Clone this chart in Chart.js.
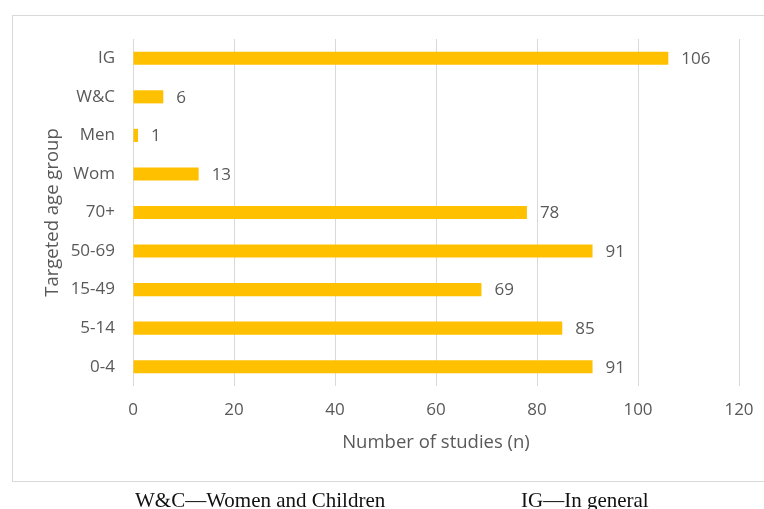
<!DOCTYPE html>
<html>
<head>
<meta charset="utf-8">
<script src="https://cdn.jsdelivr.net/npm/chart.js@4/dist/chart.umd.min.js"></script>
<style>
  body { margin: 0; background: #fff; }
  #wrap { position: relative; width: 764px; height: 509px; overflow: hidden; }
  #frame { position: absolute; left: 12px; top: 15px; width: 770px; height: 465px; border: 1px solid #d9d9d9; }
  #chart { position: absolute; left: 0; top: 0; }
  .note { position: absolute; top: 488px; font-family: "Liberation Serif", serif; font-size: 21px; color: #111; white-space: nowrap; }
</style>
</head>
<body>
<div id="wrap">
  <div id="frame"></div>
  <canvas id="chart" width="764" height="509"></canvas>
  <div class="note" style="left:135px">W&amp;C—Women and Children</div>
  <div class="note" style="left:521px">IG—In general</div>
</div>
<script>
// age groups, bottom to top as drawn
const groups = ['0-4', '5-14', '15-49', '50-69', '70+', 'Wom', 'Men', 'W&C', 'IG'];
const studies = [91, 85, 69, 91, 78, 13, 1, 6, 106];
const xTicks = [0, 20, 40, 60, 80, 100, 120];

const textColor = '#595959';
const tickFont = { family: 'Open Sans', size: 17 };
const titleFont = { family: 'Open Sans', size: 18.5 };

// value labels to the right of each bar
const barValues = {
  id: 'barValues',
  afterDatasetsDraw(chart) {
    const ctx = chart.ctx;
    const meta = chart.getDatasetMeta(0);
    ctx.save();
    ctx.font = '17px "Open Sans"';
    ctx.fillStyle = textColor;
    ctx.textBaseline = 'middle';
    ctx.textAlign = 'left';
    meta.data.forEach((bar, i) => {
      ctx.fillText(studies[i], bar.x + 13, bar.y + 1);
    });
    ctx.restore();
  }
};

new Chart(document.getElementById('chart'), {
  type: 'bar',
  data: {
    labels: groups,
    datasets: [{
      data: studies,
      backgroundColor: '#ffc000',
      barPercentage: 0.34,
      categoryPercentage: 1
    }]
  },
  options: {
    indexAxis: 'y',
    responsive: false,
    animation: false,
    layout: { padding: { left: 42, top: 39, right: 25, bottom: 55 } },
    plugins: { legend: { display: false }, tooltip: { enabled: false } },
    scales: {
      x: {
        min: 0,
        max: 120,
        afterBuildTicks: s => { s.ticks = xTicks.map(v => ({ value: v })); },
        afterFit: s => { s.height = 68; s.paddingRight = 0; },
        grid: { color: '#d9d9d9', lineWidth: 1, drawTicks: false },
        border: { display: false },
        ticks: { color: textColor, font: tickFont, padding: 14 },
        title: { display: true, text: 'Number of studies (n)', color: textColor, font: titleFont, padding: 0 }
      },
      y: {
        reverse: true,
        afterFit: s => { s.width = 91; },
        grid: { display: false, drawTicks: false },
        border: { display: false },
        ticks: { color: textColor, font: tickFont, padding: 18 },
        title: { display: true, text: 'Targeted age group', color: textColor, font: titleFont, padding: 0 }
      }
    }
  },
  plugins: [barValues]
});
</script>
</body>
</html>
